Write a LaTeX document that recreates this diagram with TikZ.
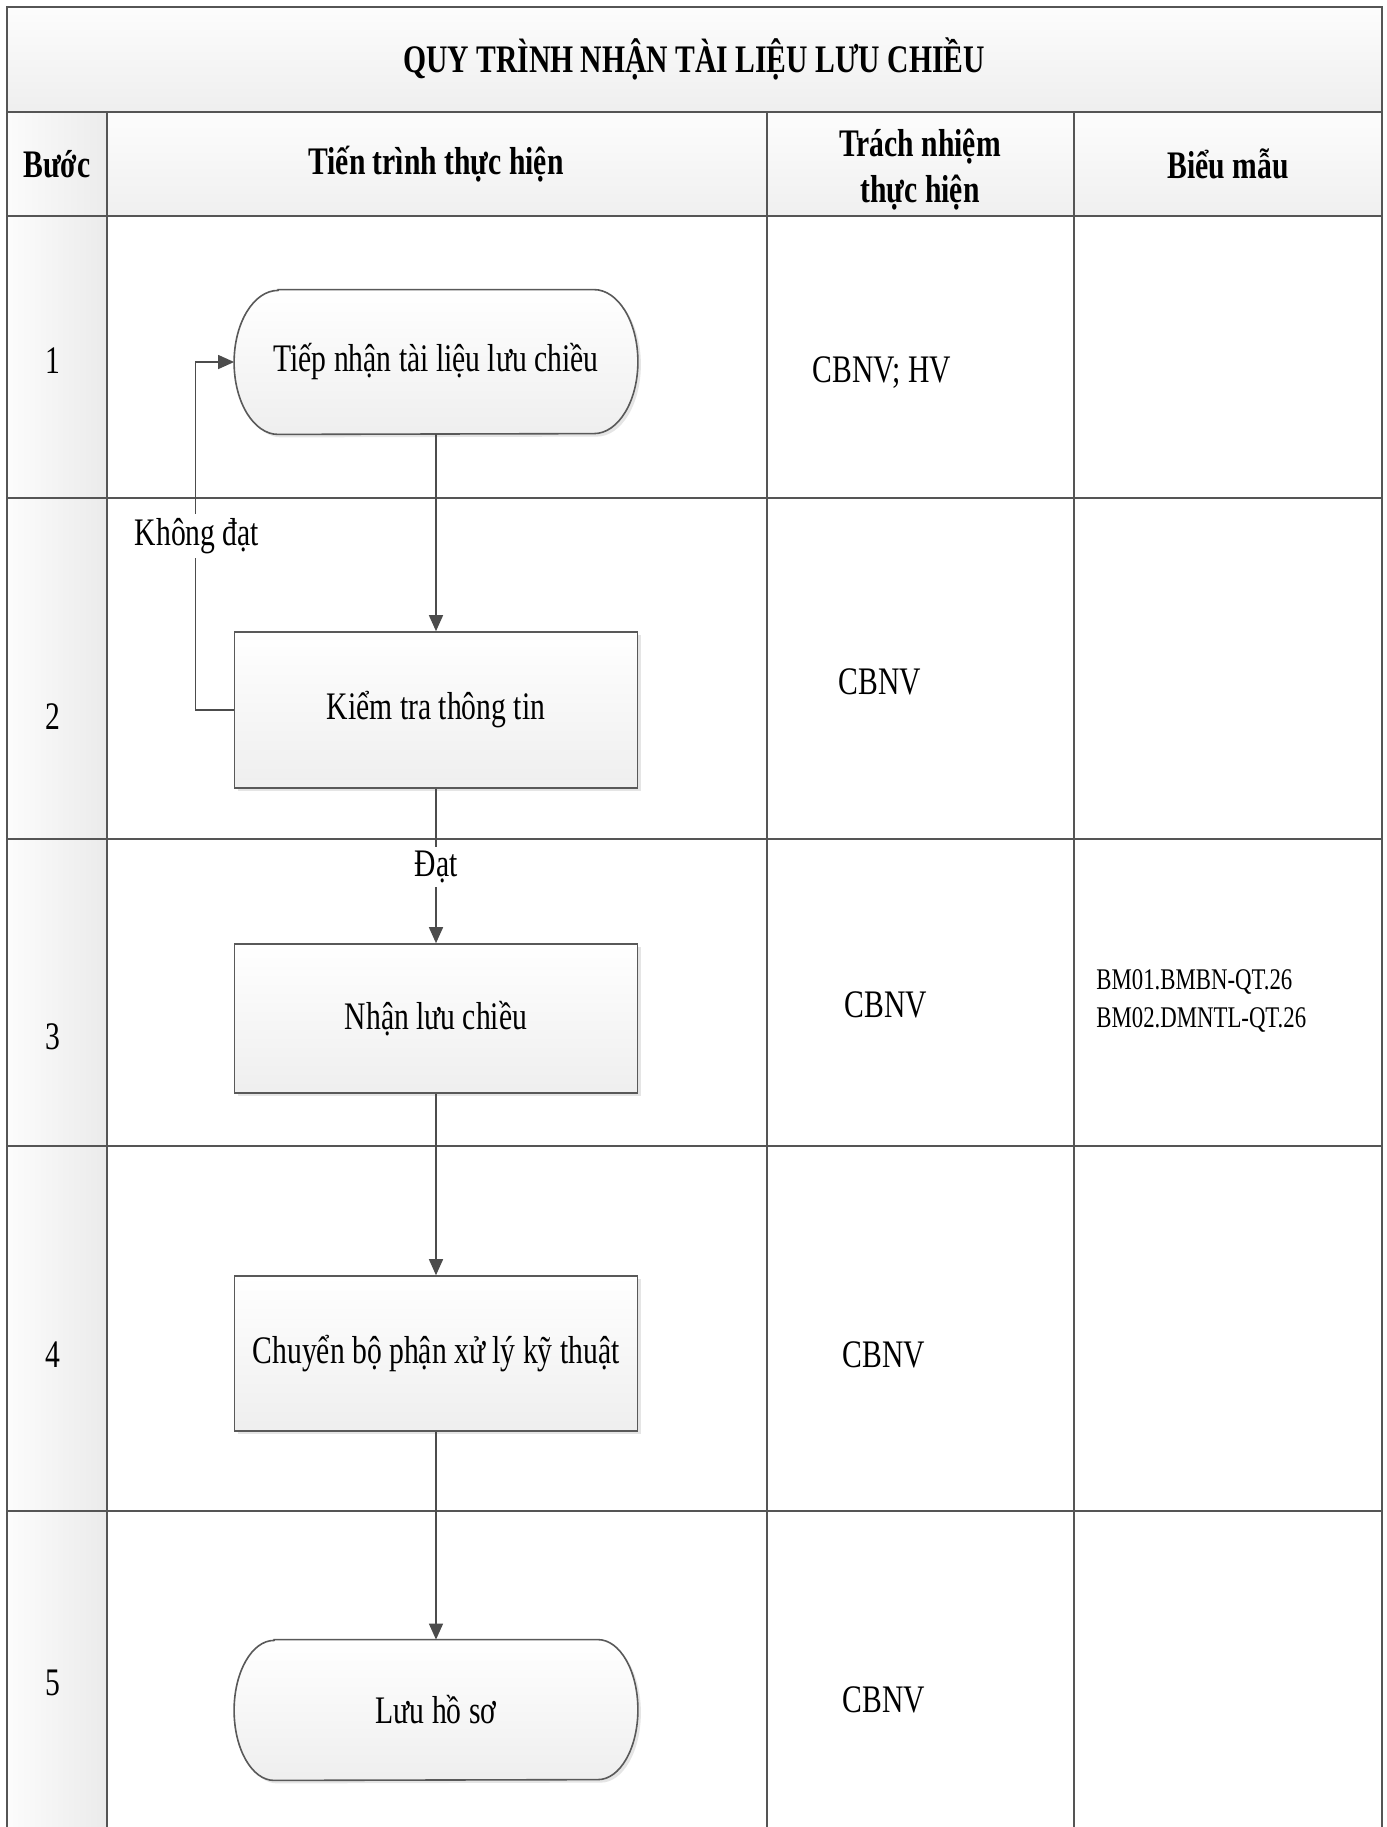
\documentclass[tikz,border=0pt]{standalone}
\usepackage{fontspec}
\setmainfont{Liberation Serif}[FakeStretch=0.76]
\usetikzlibrary{arrows.meta,shadows}
\pgfdeclarelayer{back}
\pgfdeclarelayer{bg}
\pgfsetlayers{back,bg,main}
\newcommand\bodyf{\fontsize{19.5}{23}\selectfont}
\newcommand\smallf{\fontsize{15}{19}\selectfont}
\definecolor{lineg}{HTML}{555555}
\begin{document}
\begin{tikzpicture}[x=0.5pt,y=-0.5pt,
  gridthick/.style={draw=lineg,line width=1.2pt},
  gridthin/.style={draw=lineg,line width=0.8pt},
  txt/.style={font=\bodyf,inner sep=1pt,align=center},
  hdr/.style={font=\bodyf\bfseries,inner sep=1pt,align=center},
  procbox/.style={draw=black!65,line width=0.8pt,top color=white,bottom color=gray!13,
    minimum width=201.5pt,font=\bodyf,align=center,
    drop shadow={opacity=0.2,shadow xshift=1.5pt,shadow yshift=-1.5pt}},
  termnode/.style={minimum width=201.5pt,font=\bodyf,align=center,inner sep=0pt},
  termfill/.style={draw=black!65,line width=0.8pt,top color=white,bottom color=gray!13,
    drop shadow={opacity=0.2,shadow xshift=1.5pt,shadow yshift=-1.5pt}},
  flow/.style={draw=black!70,line width=0.7pt,-{Triangle[length=8pt,width=7pt]}},
  lbl/.style={font=\bodyf,fill=white,inner sep=2pt}
]
\useasboundingbox (0,0) rectangle (1387,1827);

\begin{pgfonlayer}{back}
\fill[white] (0,0) rectangle (1387,1827);
% backgrounds
\fill[top color=gray!2,bottom color=gray!13] (7,7) rectangle (1382,112);
\fill[top color=gray!2,bottom color=gray!12] (107,112) rectangle (1382,216);
\fill[left color=gray!3,right color=gray!15] (7,112) rectangle (107,216);
\fill[left color=gray!2,right color=gray!16] (7,216) rectangle (107,1827);
% grid
\draw[gridthick] (7,1827) -- (7,7) -- (1382,7) -- (1382,1827);
\draw[gridthick] (7,112) -- (1382,112);
\draw[gridthick] (7,216) -- (1382,216);
\draw[gridthin] (107,112) -- (107,1827);
\draw[gridthin] (767,112) -- (767,1827);
\draw[gridthin] (1074,112) -- (1074,1827);
\foreach \yy in {498,839,1146,1511} \draw[gridthin] (7,\yy) -- (1382,\yy);
\end{pgfonlayer}

% title and header
\node[hdr] (title) at (694,59) {QUY TRÌNH NHẬN TÀI LIỆU LƯU CHIỀU};
\node[hdr] (h1) at (57,164) {Bước};
\node[hdr] (h2) at (436,164) {Tiến trình thực hiện};
\node[hdr,text depth=0pt] (h3) at (920,166) {Trách nhiệm\\thực hiện};
\node[hdr] (h4) at (1228,164) {Biểu mẫu};

% steps
\node[txt] (s1) at (53,361) {1};
\node[txt] (s2) at (53,717) {2};
\node[txt] (s3) at (53,1037) {3};
\node[txt] (s4) at (53,1355) {4};
\node[txt] (s5) at (53,1683) {5};

% responsibilities
\node[txt] (r1) at (882,373) {CBNV; HV};
\node[txt] (r2) at (880,682) {CBNV};
\node[txt] (r3) at (886,1005) {CBNV};
\node[txt] (r4) at (884,1355) {CBNV};
\node[txt] (r5) at (884,1700) {CBNV};

% forms
\node[font=\smallf,align=left,anchor=west,inner sep=0pt] (f3) at (1096,1001) {BM01.BMBN-QT.26\\BM02.DMNTL-QT.26};

% process nodes
\node[termnode,minimum height=72pt] (n1) at (436,362) {Tiếp nhận tài liệu lưu chiều};
\node[procbox,minimum height=78pt] (n2) at (436,710) {Kiểm tra thông tin};
\node[procbox,minimum height=74.5pt] (n3) at (436,1018.5) {Nhận lưu chiều};
\node[procbox,minimum height=77.5pt] (n4) at (436,1353.5) {Chuyển bộ phận xử lý kỹ thuật};
\node[termnode,minimum height=70pt] (n5) at (436,1710) {Lưu hồ sơ};

\begin{pgfonlayer}{bg}
\path[termfill] ([xshift=22pt]n1.north west) -- ([xshift=-22pt]n1.north east)
  arc[start angle=90,end angle=-90,x radius=22pt,y radius=36pt]
  -- ([xshift=22pt]n1.south west)
  arc[start angle=270,end angle=90,x radius=22pt,y radius=36pt] -- cycle;
\path[termfill] ([xshift=20pt]n5.north west) -- ([xshift=-20pt]n5.north east)
  arc[start angle=90,end angle=-90,x radius=20pt,y radius=35pt]
  -- ([xshift=20pt]n5.south west)
  arc[start angle=270,end angle=90,x radius=20pt,y radius=35pt] -- cycle;
\end{pgfonlayer}

% connectors
\draw[flow] (n1.south) -- (n2.north);
\draw[flow] (n2.south) -- (n3.north);
\draw[flow] (n3.south) -- (n4.north);
\draw[flow] (n4.south) -- (n5.north);
\draw[flow] (n2.west) -- ++(-38,0) |- (n1.west);

% labels
\node[lbl] (l1) at (197,536) {Không đạt};
\node[lbl] (l2) at (436,867) {Đạt};
\end{tikzpicture}
\end{document}
